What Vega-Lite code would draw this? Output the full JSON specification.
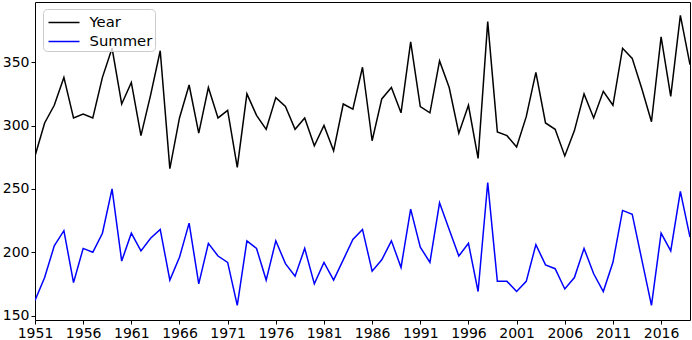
{
  "$schema": "https://vega.github.io/schema/vega-lite/v6.json",
  "autosize": "none",
  "width": 655,
  "height": 318,
  "padding": {"left": 35, "top": 2, "right": 2, "bottom": 20},
  "background": "white",
  "config": {
    "font": "DejaVu Sans",
    "view": {"stroke": "#000", "strokeWidth": 1}
  },
  "data": {
    "values": [
      {"year": 1951, "Year": 276, "Summer": 162},
      {"year": 1952, "Year": 302, "Summer": 180},
      {"year": 1953, "Year": 316, "Summer": 205},
      {"year": 1954, "Year": 338, "Summer": 217},
      {"year": 1955, "Year": 306, "Summer": 176},
      {"year": 1956, "Year": 309, "Summer": 203},
      {"year": 1957, "Year": 306, "Summer": 200},
      {"year": 1958, "Year": 338, "Summer": 215},
      {"year": 1959, "Year": 361, "Summer": 250},
      {"year": 1960, "Year": 317, "Summer": 193},
      {"year": 1961, "Year": 334, "Summer": 215},
      {"year": 1962, "Year": 292, "Summer": 201},
      {"year": 1963, "Year": 324, "Summer": 211},
      {"year": 1964, "Year": 359, "Summer": 218},
      {"year": 1965, "Year": 266, "Summer": 178},
      {"year": 1966, "Year": 306, "Summer": 196},
      {"year": 1967, "Year": 332, "Summer": 223},
      {"year": 1968, "Year": 294, "Summer": 175},
      {"year": 1969, "Year": 330, "Summer": 207},
      {"year": 1970, "Year": 306, "Summer": 197},
      {"year": 1971, "Year": 312, "Summer": 192},
      {"year": 1972, "Year": 267, "Summer": 158},
      {"year": 1973, "Year": 325, "Summer": 209},
      {"year": 1974, "Year": 308, "Summer": 203},
      {"year": 1975, "Year": 297, "Summer": 178},
      {"year": 1976, "Year": 322, "Summer": 209},
      {"year": 1977, "Year": 315, "Summer": 191},
      {"year": 1978, "Year": 297, "Summer": 181},
      {"year": 1979, "Year": 306, "Summer": 203},
      {"year": 1980, "Year": 284, "Summer": 175},
      {"year": 1981, "Year": 300, "Summer": 192},
      {"year": 1982, "Year": 280, "Summer": 178},
      {"year": 1983, "Year": 317, "Summer": 194},
      {"year": 1984, "Year": 313, "Summer": 210},
      {"year": 1985, "Year": 346, "Summer": 218},
      {"year": 1986, "Year": 288, "Summer": 185},
      {"year": 1987, "Year": 321, "Summer": 194},
      {"year": 1988, "Year": 330, "Summer": 209},
      {"year": 1989, "Year": 310, "Summer": 188},
      {"year": 1990, "Year": 366, "Summer": 234},
      {"year": 1991, "Year": 315, "Summer": 204},
      {"year": 1992, "Year": 310, "Summer": 192},
      {"year": 1993, "Year": 351, "Summer": 239},
      {"year": 1994, "Year": 330, "Summer": 218},
      {"year": 1995, "Year": 294, "Summer": 197},
      {"year": 1996, "Year": 316, "Summer": 207},
      {"year": 1997, "Year": 274, "Summer": 169},
      {"year": 1998, "Year": 382, "Summer": 255},
      {"year": 1999, "Year": 295, "Summer": 177},
      {"year": 2000, "Year": 292, "Summer": 177},
      {"year": 2001, "Year": 283, "Summer": 169},
      {"year": 2002, "Year": 307, "Summer": 177},
      {"year": 2003, "Year": 342, "Summer": 206},
      {"year": 2004, "Year": 302, "Summer": 190},
      {"year": 2005, "Year": 297, "Summer": 187},
      {"year": 2006, "Year": 276, "Summer": 171},
      {"year": 2007, "Year": 296, "Summer": 180},
      {"year": 2008, "Year": 325, "Summer": 203},
      {"year": 2009, "Year": 306, "Summer": 183},
      {"year": 2010, "Year": 327, "Summer": 169},
      {"year": 2011, "Year": 316, "Summer": 192},
      {"year": 2012, "Year": 361, "Summer": 233},
      {"year": 2013, "Year": 353, "Summer": 230},
      {"year": 2014, "Year": 329, "Summer": 194},
      {"year": 2015, "Year": 303, "Summer": 158},
      {"year": 2016, "Year": 370, "Summer": 215},
      {"year": 2017, "Year": 323, "Summer": 201},
      {"year": 2018, "Year": 387, "Summer": 248},
      {"year": 2019, "Year": 348, "Summer": 212}
    ]
  },
  "transform": [{"fold": ["Year", "Summer"], "as": ["series", "value"]}],
  "mark": {"type": "line", "strokeWidth": 1.5, "clip": true},
  "encoding": {
    "x": {
      "field": "year",
      "type": "quantitative",
      "scale": {"domain": [1951, 2019], "nice": false, "zero": false},
      "axis": {
        "title": null,
        "values": [1951, 1956, 1961, 1966, 1971, 1976, 1981, 1986, 1991, 1996, 2001, 2006, 2011, 2016],
        "format": "d",
        "grid": false,
        "domain": false,
        "tickColor": "#000",
        "tickSize": 4,
        "labelFontSize": 14,
        "labelColor": "#000",
        "labelPadding": 2,
        "labelFlush": false,
        "labelOverlap": false
      }
    },
    "y": {
      "field": "value",
      "type": "quantitative",
      "scale": {"domain": [146.5, 397.5], "nice": false, "zero": false},
      "axis": {
        "title": null,
        "values": [150, 200, 250, 300, 350],
        "grid": false,
        "domain": false,
        "tickColor": "#000",
        "tickSize": 4,
        "labelFontSize": 14,
        "labelColor": "#000",
        "labelPadding": 2
      }
    },
    "color": {
      "field": "series",
      "type": "nominal",
      "sort": ["Year", "Summer"],
      "scale": {"domain": ["Year", "Summer"], "range": ["#000000", "#0000ff"]},
      "legend": {
        "title": null,
        "orient": "none",
        "legendX": 8,
        "legendY": 7,
        "padding": 2,
        "fillColor": "rgba(255,255,255,0.8)",
        "strokeColor": "#cccccc",
        "cornerRadius": 4,
        "symbolType": "M-1.476,0H1.476",
        "symbolSize": 441,
        "symbolStrokeWidth": 1.5,
        "symbolOffset": 7.5,
        "labelFontSize": 14.8,
        "labelColor": "#000",
        "labelOffset": 14,
        "rowPadding": 0
      }
    }
  }
}
